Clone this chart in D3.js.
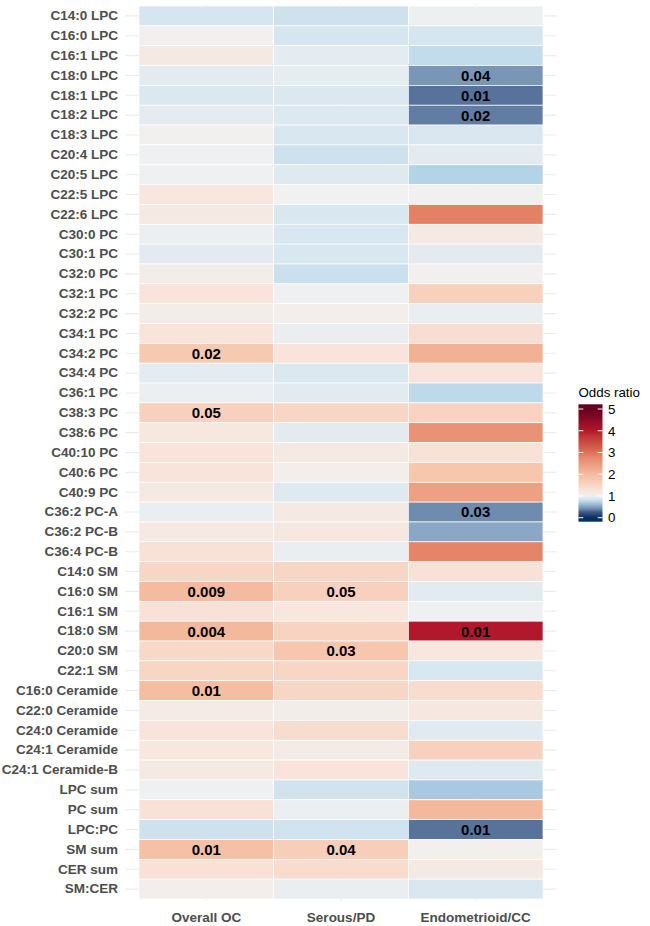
<!DOCTYPE html>
<html>
<head>
<meta charset="utf-8">
<script src="https://cdn.jsdelivr.net/npm/d3@7"></script>
<style>
  html, body { margin: 0; padding: 0; background: #fff; }
  svg { display: block; font-family: "Liberation Sans", Arial, Helvetica, sans-serif; }
</style>
</head>
<body>
<svg id="chart" width="650" height="926"></svg>
<script>
// ---------- data ----------
const rows = [
  "C14:0 LPC","C16:0 LPC","C16:1 LPC","C18:0 LPC","C18:1 LPC","C18:2 LPC","C18:3 LPC",
  "C20:4 LPC","C20:5 LPC","C22:5 LPC","C22:6 LPC","C30:0 PC","C30:1 PC","C32:0 PC",
  "C32:1 PC","C32:2 PC","C34:1 PC","C34:2 PC","C34:4 PC","C36:1 PC","C38:3 PC","C38:6 PC",
  "C40:10 PC","C40:6 PC","C40:9 PC","C36:2 PC-A","C36:2 PC-B","C36:4 PC-B","C14:0 SM",
  "C16:0 SM","C16:1 SM","C18:0 SM","C20:0 SM","C22:1 SM","C16:0 Ceramide","C22:0 Ceramide",
  "C24:0 Ceramide","C24:1 Ceramide","C24:1 Ceramide-B","LPC sum","PC sum","LPC:PC",
  "SM sum","CER sum","SM:CER"
];
const columns = ["Overall OC", "Serous/PD", "Endometrioid/CC"];

const overallOC = [0.85,1.03,1.15,0.92,0.88,0.93,1.02,0.99,0.99,1.2,1.15,0.97,0.92,1.08,1.25,1.08,1.25,1.75,0.93,0.97,1.6,1.2,1.25,1.25,1.15,0.96,1.15,1.3,1.5,2.0,1.3,2.05,1.45,1.5,1.95,1.12,1.25,1.2,1.15,0.99,1.28,0.82,1.9,1.28,1.07];
const serousPD  = [0.82,0.85,0.93,0.94,0.88,0.89,0.86,0.82,0.9,1.0,0.86,0.87,0.86,0.81,0.99,1.05,0.96,1.25,0.88,0.92,1.5,0.92,1.15,1.05,0.9,1.15,1.17,0.96,1.5,1.6,1.2,1.55,1.8,1.5,1.5,1.08,1.38,1.12,1.25,0.83,0.97,0.83,1.65,1.38,0.96];
const endoCC    = [0.98,0.85,0.78,0.45,0.33,0.36,0.87,0.92,0.72,1.01,2.85,1.15,0.92,1.02,1.6,0.96,1.35,2.15,1.25,0.76,1.55,2.6,1.3,1.8,2.4,0.4,0.53,2.8,1.3,0.92,0.99,4.0,1.2,0.86,1.4,1.18,0.91,1.6,0.9,0.67,2.05,0.33,1.04,1.15,0.87];

// p-value labels (row -> text), per column
const pOverallOC = {"C34:2 PC":"0.02","C38:3 PC":"0.05","C16:0 SM":"0.009","C18:0 SM":"0.004","C16:0 Ceramide":"0.01","SM sum":"0.01"};
const pSerousPD  = {"C16:0 SM":"0.05","C20:0 SM":"0.03","SM sum":"0.04"};
const pEndoCC    = {"C18:0 LPC":"0.04","C18:1 LPC":"0.01","C18:2 LPC":"0.02","C36:2 PC-A":"0.03","C18:0 SM":"0.01","LPC:PC":"0.01"};

const legendTicks = [0, 1, 2, 3, 4, 5];
const legendTitle = "Odds ratio";

// colour scale stops (odds ratio -> colour), diverging around 1
const colourDomain = [0, 0.25, 0.4, 0.55, 0.7, 0.85, 1, 1.25, 1.5, 1.8, 2.05, 2.4, 2.8, 3.2, 4, 5];
const colourRange  = ["#053061","#3A5887","#6F8BAE","#8EACCA","#AED0E5","#D6E6F0","#F1F1F1",
                      "#F8E4DA","#F8D6C5","#F6C6AD","#F4B89C","#EDA083","#E6846A","#D6604D","#B2182B","#67001F"];

// ---------- build table ----------
const seriesValues = [overallOC, serousPD, endoCC];
const seriesP = [pOverallOC, pSerousPD, pEndoCC];
const cells = [];
columns.forEach((c, ci) => {
  rows.forEach((r, ri) => {
    cells.push({ col: c, row: r, value: seriesValues[ci][ri], p: seriesP[ci][r] || "" });
  });
});

// ---------- layout ----------
const svg = d3.select("#chart");
const tileLeft = 139, tileRight = 543, tileTop = 6, tileBottom = 899;

const x = d3.scaleBand().domain(columns).range([tileLeft, tileRight]).padding(0);
const y = d3.scaleBand().domain(rows).range([tileTop, tileBottom]).padding(0);
const ext = 0.1;
const panelLeft = tileLeft - ext * x.bandwidth();
const panelRight = tileRight + ext * x.bandwidth();
const panelTop = tileTop - ext * y.bandwidth();
const panelBottom = tileBottom + ext * y.bandwidth();

const colour = d3.scaleLinear().domain(colourDomain).range(colourRange)
  .interpolate(d3.interpolateLab).clamp(true);

// grid lines
const grid = svg.append("g").attr("stroke", "#EBEBEB").attr("stroke-width", 1.1);
grid.selectAll("line.h").data(rows).join("line")
  .attr("x1", panelLeft).attr("x2", panelRight)
  .attr("y1", d => y(d) + y.bandwidth() / 2).attr("y2", d => y(d) + y.bandwidth() / 2);
grid.selectAll("line.v").data(columns).join("line")
  .attr("y1", panelTop).attr("y2", panelBottom)
  .attr("x1", d => x(d) + x.bandwidth() / 2).attr("x2", d => x(d) + x.bandwidth() / 2);

// tiles
svg.append("g").selectAll("rect").data(cells).join("rect")
  .attr("x", d => x(d.col)).attr("y", d => y(d.row))
  .attr("width", x.bandwidth()).attr("height", y.bandwidth())
  .attr("fill", d => colour(d.value))
  .attr("stroke", "white").attr("stroke-width", 0.7);

// cell labels
svg.append("g").selectAll("text").data(cells.filter(d => d.p)).join("text")
  .attr("x", d => x(d.col) + x.bandwidth() / 2)
  .attr("y", d => y(d.row) + y.bandwidth() / 2)
  .attr("dy", "0.36em")
  .attr("text-anchor", "middle")
  .attr("font-size", "15px").attr("font-weight", "bold").attr("fill", "#000")
  .text(d => d.p);

// y axis
const yAxis = svg.append("g").attr("transform", `translate(${panelLeft},0)`)
  .call(d3.axisLeft(y).tickSize(0).tickPadding(7.5));
yAxis.select(".domain").remove();
yAxis.selectAll("text").attr("font-size", "13.5px").attr("font-weight", "bold")
  .attr("fill", "#4D4D4D").attr("font-family", "Liberation Sans, Arial, sans-serif");

// x axis
const xAxis = svg.append("g").attr("transform", `translate(0,${panelBottom})`)
  .call(d3.axisBottom(x).tickSize(0).tickPadding(11));
xAxis.select(".domain").remove();
xAxis.selectAll("text").attr("font-size", "13.5px").attr("font-weight", "bold")
  .attr("fill", "#4D4D4D").attr("font-family", "Liberation Sans, Arial, sans-serif");

// ---------- legend ----------
const barX = 578.5, barW = 24, barTop = 404.3, barBottom = 521.7;
const ly = d3.scaleLinear().domain([0, 5]).range([517.7, 409]);

const defs = svg.append("defs");
const grad = defs.append("linearGradient").attr("id", "lg")
  .attr("x1", 0).attr("y1", 1).attr("x2", 0).attr("y2", 0);
const nStops = 60;
d3.range(nStops + 1).forEach(i => {
  const py = barBottom - (barBottom - barTop) * i / nStops;
  grad.append("stop").attr("offset", (i / nStops))
    .attr("stop-color", colour(ly.invert(py)));
});

svg.append("text").attr("x", barX).attr("y", 396.5)
  .attr("font-size", "13.3px").attr("fill", "#000").text(legendTitle);

svg.append("rect").attr("x", barX).attr("y", barTop)
  .attr("width", barW).attr("height", barBottom - barTop)
  .attr("fill", "url(#lg)");

const tk = svg.append("g");
tk.selectAll("line.l").data(legendTicks).join("line")
  .attr("x1", barX).attr("x2", barX + barW / 5)
  .attr("y1", d => ly(d)).attr("y2", d => ly(d))
  .attr("stroke", "white").attr("stroke-width", 1);
tk.selectAll("line.r").data(legendTicks).join("line")
  .attr("x1", barX + barW - barW / 5).attr("x2", barX + barW)
  .attr("y1", d => ly(d)).attr("y2", d => ly(d))
  .attr("stroke", "white").attr("stroke-width", 1);

const lAxis = svg.append("g").attr("transform", `translate(${barX + barW},0)`)
  .call(d3.axisRight(ly).tickValues(legendTicks).tickFormat(d3.format("d")).tickSize(0).tickPadding(5.5));
lAxis.select(".domain").remove();
lAxis.selectAll("text").attr("font-size", "13.3px").attr("fill", "#000")
  .attr("font-family", "Liberation Sans, Arial, sans-serif");
</script>
</body>
</html>
